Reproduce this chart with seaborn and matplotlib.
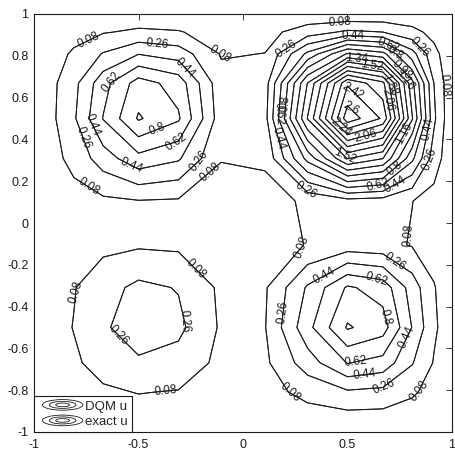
import numpy as np
import matplotlib
matplotlib.use("Agg")
import matplotlib.pyplot as plt
import seaborn as sns
from matplotlib.legend_handler import HandlerBase
from matplotlib.patches import Ellipse
from matplotlib.lines import Line2D

# ---- data ----
# grid nodes (Chebyshev-Gauss-Lobatto, 16 points per direction)
x_nodes = [-1.0, -0.97815, -0.91355, -0.80902, -0.66913, -0.5, -0.30902, -0.10453,
           0.10453, 0.30902, 0.5, 0.66913, 0.80902, 0.91355, 0.97815, 1.0]
y_nodes = list(x_nodes)
# separable profiles of u along x and along y at the nodes
profile_x = [0.0, 0.00177, 0.02887, 0.14196, 0.38077, 0.60653, 0.50009, 0.09377,
             0.11557, 0.92789, 1.64872, 1.45158, 0.71593, 0.17943, 0.01251, 0.0]
profile_y = list(profile_x)
levels = [0.08, 0.26, 0.44, 0.62, 0.8, 0.98, 1.16, 1.34, 1.52, 1.7, 1.88,
          2.06, 2.24, 2.42, 2.6]
x_ticks = [-1, -0.5, 0, 0.5, 1]
x_tick_labels = ["-1", "-0.5", "0", "0.5", "1"]
y_ticks = [-1, -0.8, -0.6, -0.4, -0.2, 0, 0.2, 0.4, 0.6, 0.8, 1]
y_tick_labels = ["-1", "-0.8", "-0.6", "-0.4", "-0.2", "0", "0.2", "0.4", "0.6", "0.8", "1"]
series_names = ["DQM u", "exact u"]

u_exact = np.outer(profile_y, profile_x)
u_dqm = np.outer(profile_y, profile_x)

sns.set_theme(style="white")
plt.rcParams["font.family"] = ["Liberation Sans", "DejaVu Sans"]
plt.rcParams["axes.unicode_minus"] = False
FS_TICK = 9
FS_CL = 8.5
FS_LEG = 9.5

fig = plt.figure(figsize=(4.56, 4.50), dpi=100)
ax = fig.add_axes([34/456, 18/450, 418/456, 418/450])

X, Y = np.meshgrid(x_nodes, y_nodes)
cs_dqm = ax.contour(X, Y, u_dqm, levels=levels, colors="k", linewidths=0.7)
cs_ex = ax.contour(X, Y, u_exact, levels=levels, colors="k", linewidths=0.7)

label_pos = [
    # top-left bump
    (-0.74, 0.876), (-0.41, 0.856), (-0.10, 0.81), (-0.28, 0.74), (-0.63, 0.675),
    (-0.72, 0.47), (-0.78, 0.40), (-0.41, 0.45), (-0.32, 0.39), (-0.54, 0.27),
    (-0.22, 0.31), (-0.17, 0.26), (-0.74, 0.17),
    # bottom-left bump
    (-0.895, -0.32), (-0.21, -0.20), (-0.59, -0.53), (-0.29, -0.47), (-0.37, -0.81),
    # bottom-right bump
    (0.29, -0.12), (0.81, -0.06), (0.72, -0.19), (0.40, -0.27), (0.64, -0.27),
    (0.20, -0.43), (0.69, -0.45), (0.79, -0.55), (0.54, -0.665), (0.58, -0.73),
    (0.68, -0.79), (0.225, -0.81), (0.85, -0.81),
    # top-right bump
    (0.464, 0.963), (0.528, 0.891), (0.209, 0.828), (0.695, 0.852), (0.727, 0.812),
    (0.847, 0.844), (0.544, 0.780), (0.616, 0.748), (0.767, 0.740), (0.783, 0.692),
    (0.703, 0.660), (0.982, 0.660), (0.688, 0.589), (0.512, 0.620), (0.512, 0.541),
    (0.193, 0.573), (0.185, 0.525), (0.177, 0.405), (0.464, 0.453), (0.584, 0.421),
    (0.783, 0.421), (0.895, 0.445), (0.488, 0.317), (0.719, 0.269), (0.887, 0.310),
    (0.647, 0.190), (0.719, 0.198), (0.305, 0.158),
]
ax.clabel(cs_ex, levels, inline=False, fontsize=FS_CL, fmt="%g", colors="k",
          manual=label_pos)

ax.set_xlim(-1, 1)
ax.set_ylim(-1, 1)
ax.set_xticks(x_ticks)
ax.set_xticklabels(x_tick_labels)
ax.set_yticks(y_ticks)
ax.set_yticklabels(y_tick_labels)
ax.tick_params(direction="in", length=4, width=0.6, top=True, right=True,
               labelsize=FS_TICK, colors="k", pad=4)
ax.tick_params(axis="x", pad=5)
for sp in ax.spines.values():
    sp.set_visible(True)
    sp.set_color("k")
    sp.set_linewidth(0.8)
ax.grid(False)


class HandlerRings(HandlerBase):
    def create_artists(self, legend, orig_handle, xdescent, ydescent, width,
                       height, fontsize, trans):
        ew = width * 0.9
        cx = width - ew / 2 - xdescent
        cy = height / 2 - ydescent
        eh = height * 1.15
        arts = []
        for s in (1.0, 0.66, 0.34):
            arts.append(Ellipse((cx, cy), ew * s, eh * s, fill=False,
                                ec="k", lw=0.6, transform=trans))
        return arts


h1 = Line2D([], [])
h2 = Line2D([], [])
leg = ax.legend([h1, h2], series_names, loc="lower left", fontsize=FS_LEG,
                handler_map={h1: HandlerRings(), h2: HandlerRings()},
                handlelength=3.4, handleheight=0.7, handletextpad=0.2,
                labelspacing=0.25, borderpad=0.3, borderaxespad=0.0,
                fancybox=False, framealpha=1.0)
leg.get_frame().set_edgecolor("k")
leg.get_frame().set_linewidth(0.8)

fig.savefig("out.png", dpi=100)
